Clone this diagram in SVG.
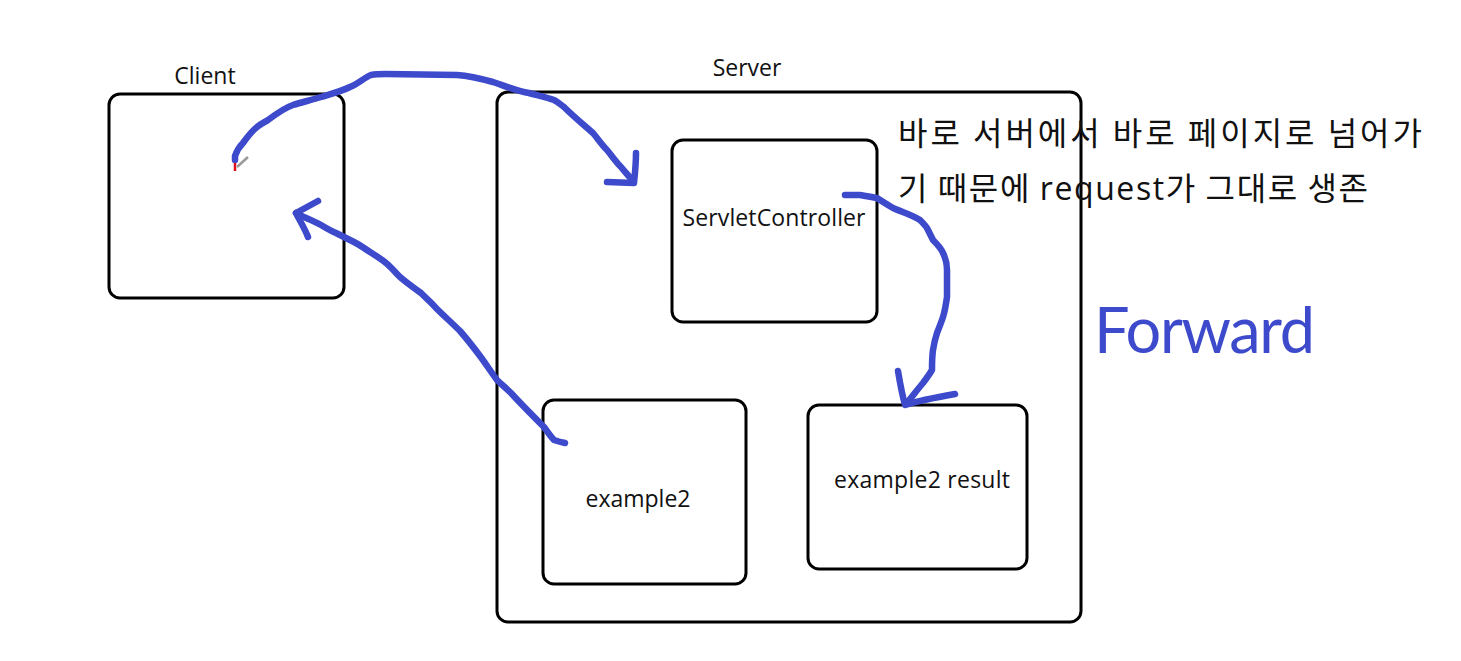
<svg xmlns="http://www.w3.org/2000/svg" width="1461" height="661" viewBox="0 0 1461 661">
<style>
.box{fill:none;stroke:#000;stroke-width:3}
.lbl{font-family:"Open Sans","Noto Sans",sans-serif;font-size:23px;fill:#111;text-anchor:middle}
.ink{fill:none;stroke:#3d4acb;stroke-width:6.5;stroke-linecap:round;stroke-linejoin:round}
.kr{font-family:"Noto Sans CJK KR","Open Sans",sans-serif;font-size:32px;fill:#111}
.lat{font-family:"Open Sans","Noto Sans",sans-serif}
</style>
<rect width="1461" height="661" fill="#fff"/>
<g id="client">
<rect class="box" x="109" y="94" width="235" height="204" rx="11"/>
<text class="lbl" x="205" y="84">Client</text>
</g>
<g id="server">
<rect class="box" x="497" y="92" width="584" height="530" rx="11"/>
<text class="lbl" x="747" y="76">Server</text>
</g>
<g id="servletcontroller">
<rect class="box" x="672" y="140" width="205" height="182" rx="11"/>
<text class="lbl" x="774" y="226" textLength="183">ServletController</text>
</g>
<g id="example2">
<rect class="box" x="543" y="400" width="203" height="184" rx="11"/>
<text class="lbl" x="638" y="507">example2</text>
</g>
<g id="example2result">
<rect class="box" x="808" y="405" width="219" height="164" rx="11"/>
<text class="lbl" x="922" y="488" textLength="176">example2 result</text>
</g>
<g id="notes">
<text class="kr" x="898" y="145" textLength="524">바로 서버에서 바로 페이지로 넘어가</text>
<text class="kr" x="898" y="200" textLength="470">기 때문에 <tspan class="lat">request</tspan>가 그대로 생존</text>
<text x="1094" y="353" font-family="Lato,'Open Sans',sans-serif" font-size="63" fill="#3d4acb" textLength="221">Forward</text>
</g>
<g id="connectors">
<path class="ink" d="M235,160 L235,156 C237,150 240,146 243,143 C248,136 252,131 257,127 C262,123 265,122 268,120 C276,114 284,108 293,105 C302,102 312,100 321,97 C331,94 342,91 350,87 C358,84 365,77 371,75 C376,74 380,74 386,74 L457,75 C470,76 482,79 493,82 C505,86 517,91 529,93 C540,96 548,98 554,100 C558,102 561,105 564,107 C574,117 584,125 593,133 C598,139 602,145 607,150 C612,156 616,162 621,167 C625,172 629,176 632,180"/>
<path class="ink" d="M636,153 C636,164 635,173 634,183 L607,182"/>
<path class="ink" d="M565,443 C560,442 557,441 554,440 C550,436 547,431 544,427 C533,416 521,404 511,393 C506,388 501,384 497,380 C491,372 486,364 480,356 C474,348 467,339 460,331 C452,323 444,316 436,308 C431,302 426,298 421,293 C414,288 407,283 400,277 C395,272 391,267 386,263 C379,257 371,253 364,248 C361,246 358,244 354,242 C348,239 342,236 336,233 C331,231 326,228 321,225 C312,220 303,217 296,213"/>
<path class="ink" d="M318,201 L296,213 C300,221 305,229 308,237"/>
<path class="ink" d="M845,195 C852,195 856,195 860,195 C866,196 872,197 877,198 C883,202 888,205 893,208 C902,212 912,215 920,220 C923,223 925,225 927,228 C929,232 931,236 933,240 C937,244 941,248 943,253 C946,259 947,265 947,270 L947,297 C946,304 945,311 943,317 C941,323 939,328 937,333 C935,339 934,344 933,350 C932,357 932,364 932,370 C929,375 926,379 923,383 C917,390 912,397 906,404"/>
<path class="ink" d="M898,371 C900,383 902,394 905,405 C921,400 938,397 955,394"/>
<line x1="235" y1="163" x2="235" y2="171" stroke="#e0101a" stroke-width="2.5"/>
<line x1="237" y1="167" x2="248" y2="157" stroke="#999" stroke-width="2.5"/>
</g>
</svg>
